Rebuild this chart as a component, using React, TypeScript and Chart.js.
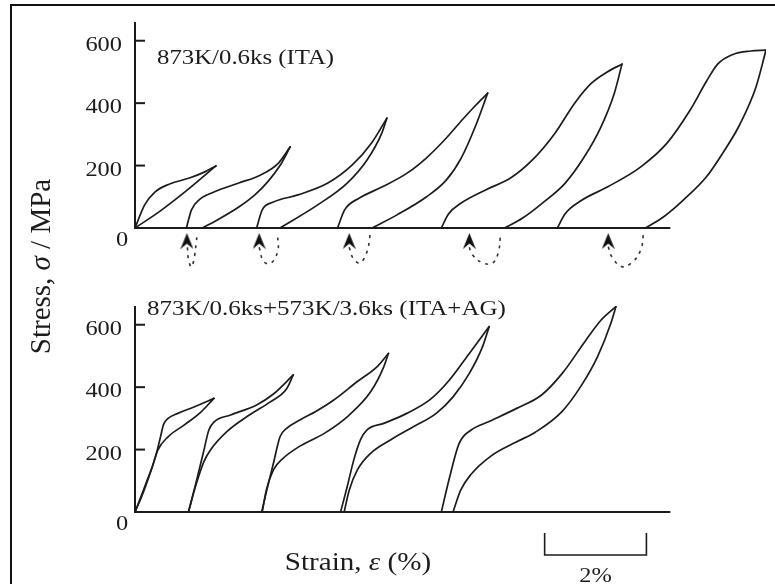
import React, { useEffect, useRef } from "react";
import { Chart, registerables } from "chart.js";

Chart.register(...registerables);

type Pt = [number, number];

// ---------- Top panel: 873K/0.6ks (ITA) — strain (%), stress (MPa) ----------
const ITA_LOADING: Pt[][] = [
  [[0, 0], [0.19, 74], [0.39, 115], [0.68, 141], [1.07, 160], [1.36, 179], [1.59, 199]],
  [[1.01, 0], [1.11, 58], [1.26, 90], [1.55, 115], [2.04, 144], [2.47, 170], [2.82, 208], [3.05, 260]],
  [[2.39, 0], [2.5, 58], [2.72, 83], [3.2, 106], [3.79, 144], [4.27, 202], [4.66, 275], [4.95, 352]],
  [[3.98, 0], [4.12, 58], [4.41, 96], [4.85, 131], [5.34, 175], [5.73, 225], [6.1, 285], [6.45, 350], [6.7, 394], [6.93, 432]],
  [[6.02, 0], [6.16, 45], [6.41, 80], [6.89, 122], [7.38, 160], [7.81, 218], [8.25, 303], [8.64, 400], [8.97, 464], [9.28, 500], [9.57, 525]],
  [[8.3, 0], [8.45, 45], [8.77, 88], [9.29, 132], [9.94, 196], [10.45, 271], [10.91, 378], [11.23, 470], [11.45, 525], [11.75, 556], [12.1, 567], [12.4, 570]],
];

const ITA_UNLOADING: Pt[][] = [
  [[0, 0], [0.5, 55], [1.0, 118], [1.59, 199]],
  [[1.32, 0], [1.6, 24], [2.04, 67], [2.35, 105], [2.62, 150], [2.85, 200], [3.05, 260]],
  [[2.85, 0], [3.59, 74], [4.17, 144], [4.56, 218], [4.85, 304], [4.95, 352]],
  [[4.66, 0], [5.15, 42], [5.73, 100], [6.12, 154], [6.41, 224], [6.7, 330], [6.93, 432]],
  [[7.26, 0], [7.61, 31], [8.0, 79], [8.45, 143], [8.83, 228], [9.16, 325], [9.42, 432], [9.57, 525]],
  [[10.03, 0], [10.39, 36], [10.78, 90], [11.23, 164], [11.55, 240], [11.88, 330], [12.2, 450], [12.4, 570]],
];

// dashed shape-recovery paths below the axis (from arrow to residual strain)
const ITA_RECOVERY: Pt[][] = [
  [[1.03, -62], [1.05, -100], [1.11, -125], [1.17, -90], [1.2, -50], [1.22, -25]],
  [[2.44, -62], [2.53, -108], [2.68, -112], [2.81, -70], [2.8, -22]],
  [[4.21, -62], [4.29, -98], [4.42, -112], [4.56, -76], [4.62, -22]],
  [[6.57, -62], [6.62, -84], [6.83, -112], [7.03, -112], [7.14, -78], [7.18, -28]],
  [[9.3, -60], [9.38, -95], [9.57, -124], [9.77, -110], [9.94, -70], [9.99, -22]],
];

const ITA_ARROW_STRAIN = [1.02, 2.44, 4.21, 6.57, 9.3];
const ITA_ARROW_STRESS = -42;

// ---------- Bottom panel: 873K/0.6ks+573K/3.6ks (ITA+AG) ----------
const AG_LOADING: Pt[][] = [
  [[0, 0], [0.2, 85], [0.4, 175], [0.5, 240], [0.56, 280], [0.65, 300], [0.84, 316], [1.17, 337], [1.55, 364]],
  [[1.05, 0], [1.2, 95], [1.35, 195], [1.45, 262], [1.55, 288], [1.88, 311], [2.39, 343], [2.72, 378], [3.11, 439]],
  [[2.49, 0], [2.59, 70], [2.72, 156], [2.85, 241], [2.98, 268], [3.24, 295], [3.56, 323], [3.9, 358], [4.37, 418], [4.76, 466], [4.98, 508]],
  [[4.04, 0], [4.17, 81], [4.3, 167], [4.43, 231], [4.56, 263], [4.89, 284], [5.34, 316], [5.79, 359], [6.18, 423], [6.57, 508], [6.96, 594]],
  [[6.02, 0], [6.18, 110], [6.37, 220], [6.6, 262], [6.96, 290], [7.5, 332], [7.99, 375], [8.4, 445], [8.85, 548], [9.16, 615], [9.45, 658]],
];

const AG_UNLOADING: Pt[][] = [
  [[0, 0], [0.13, 49], [0.32, 135], [0.45, 199], [0.65, 241], [0.97, 279], [1.3, 321], [1.55, 364]],
  [[1.05, 0], [1.2, 88], [1.35, 160], [1.49, 200], [1.81, 258], [2.27, 313], [2.65, 352], [2.98, 395], [3.11, 439]],
  [[2.5, 0], [2.58, 70], [2.72, 135], [2.91, 172], [3.2, 207], [3.72, 252], [4.17, 305], [4.63, 385], [4.88, 462], [4.98, 508]],
  [[4.11, 0], [4.21, 70], [4.37, 135], [4.63, 188], [5.02, 231], [5.47, 273], [5.92, 316], [6.25, 369], [6.57, 444], [6.83, 530], [6.96, 594]],
  [[6.25, 0], [6.4, 70], [6.6, 120], [7.0, 180], [7.5, 225], [7.86, 255], [8.38, 320], [8.77, 405], [9.09, 498], [9.35, 604], [9.45, 658]],
];

// ---------- axes / labels ----------
const Y_TICKS = [0, 200, 400, 600];
const Y_AXIS_TOP = 660;
const TOP_MIN = -250;
const X_MAX = 12.4;
const X_AXIS_END = 10.52;
const SCALE_BAR_START = 8.05;
const SCALE_BAR_LENGTH = 2;

const TOP_TITLE = "873K/0.6ks (ITA)";
const BOTTOM_TITLE = "873K/0.6ks+573K/3.6ks (ITA+AG)";
const SCALE_BAR_LABEL = "2%";

const INK = "#1c1c1c";
const SERIF = '"Liberation Serif", "Times New Roman", serif';

type Run = { text: string; italic?: boolean };

function drawRuns(
  ctx: CanvasRenderingContext2D,
  runs: Run[],
  x: number,
  y: number,
  size: number,
  sx: number,
  sy: number,
  align: "left" | "center" | "right",
  rotate = false
) {
  ctx.save();
  ctx.translate(x, y);
  if (rotate) ctx.rotate(-Math.PI / 2);
  ctx.scale(sx, sy);
  ctx.fillStyle = INK;
  ctx.textAlign = "left";
  ctx.textBaseline = "alphabetic";
  const fonts = runs.map((r) => `${r.italic ? "italic " : ""}${size}px ${SERIF}`);
  const widths = runs.map((r, i) => {
    ctx.font = fonts[i];
    return ctx.measureText(r.text).width;
  });
  const total = widths.reduce((a, b) => a + b, 0);
  let cx = align === "center" ? -total / 2 : align === "right" ? -total : 0;
  runs.forEach((r, i) => {
    ctx.font = fonts[i];
    ctx.fillText(r.text, cx, 0);
    cx += widths[i];
  });
  ctx.restore();
}

const decorPlugin = {
  id: "decor",
  afterDatasetsDraw(chart: any) {
    const ctx: CanvasRenderingContext2D = chart.ctx;
    const xs = chart.scales.x;
    const panels = [chart.scales.yt, chart.scales.yb];
    const x0 = xs.getPixelForValue(0);
    const xEnd = xs.getPixelForValue(X_AXIS_END);
    ctx.save();
    ctx.strokeStyle = INK;
    ctx.lineWidth = 2;
    for (const ys of panels) {
      const yz = ys.getPixelForValue(0);
      const yTop = ys.getPixelForValue(Y_AXIS_TOP);
      ctx.beginPath();
      ctx.moveTo(x0, yTop);
      ctx.lineTo(x0, yz);
      ctx.lineTo(xEnd, yz);
      ctx.stroke();
      for (const t of Y_TICKS) {
        const py = ys.getPixelForValue(t);
        if (t > 0) {
          ctx.beginPath();
          ctx.moveTo(x0, py);
          ctx.lineTo(x0 + 10, py);
          ctx.stroke();
          drawRuns(ctx, [{ text: String(t) }], x0 - 13, py + 10, 20, 1.22, 1, "right");
        } else {
          drawRuns(ctx, [{ text: String(t) }], x0 - 13, py + 18, 20, 1.22, 1, "center");
        }
      }
    }
    const yt = chart.scales.yt;
    const yb = chart.scales.yb;
    drawRuns(ctx, [{ text: TOP_TITLE }], x0 + 22, yt.getPixelForValue(600) + 23.5, 20, 1.24, 1, "left");
    drawRuns(ctx, [{ text: BOTTOM_TITLE }], x0 + 12, yb.getPixelForValue(Y_AXIS_TOP) + 8.5, 20, 1.25, 1, "left");

    drawRuns(
      ctx,
      [{ text: "Strain, " }, { text: "ε", italic: true }, { text: " (%)" }],
      358,
      yb.getPixelForValue(0) + 58,
      26,
      1.12,
      1,
      "center"
    );
    drawRuns(
      ctx,
      [{ text: "Stress, " }, { text: "σ", italic: true }, { text: " / MPa" }],
      50,
      266.5,
      29,
      1,
      1.05,
      "center",
      true
    );

    const sb0 = xs.getPixelForValue(SCALE_BAR_START);
    const sb1 = xs.getPixelForValue(SCALE_BAR_START + SCALE_BAR_LENGTH);
    const sbY = yb.getPixelForValue(0) + 43;
    ctx.lineWidth = 1.6;
    ctx.beginPath();
    ctx.moveTo(sb0, sbY - 22);
    ctx.lineTo(sb0, sbY);
    ctx.lineTo(sb1, sbY);
    ctx.lineTo(sb1, sbY - 22);
    ctx.stroke();
    drawRuns(ctx, [{ text: SCALE_BAR_LABEL }], (sb0 + sb1) / 2, sbY + 27, 20, 1.22, 1, "center");
    ctx.restore();
  },
};

function makeArrow(): HTMLCanvasElement {
  const c = document.createElement("canvas");
  c.width = 13;
  c.height = 16;
  const g = c.getContext("2d")!;
  g.fillStyle = "#111";
  g.beginPath();
  g.moveTo(6.5, 0);
  g.lineTo(13, 16);
  g.lineTo(6.5, 10.5);
  g.lineTo(0, 16);
  g.closePath();
  g.fill();
  return c;
}

const toXY = (pts: Pt[]) => pts.map(([x, y]) => ({ x, y }));

export default function App() {
  const ref = useRef<HTMLCanvasElement | null>(null);

  useEffect(() => {
    if (!ref.current) return;
    const solid = (pts: Pt[], yAxisID: string) => ({
      type: "line" as const,
      data: toXY(pts),
      yAxisID,
      borderColor: INK,
      borderWidth: 1.7,
      pointRadius: 0,
      pointHoverRadius: 0,
      fill: false,
      cubicInterpolationMode: "monotone" as const,
      borderCapStyle: "round" as const,
    });
    const dashed = (pts: Pt[]) => ({
      type: "line" as const,
      data: toXY(pts),
      yAxisID: "yt",
      borderColor: "#333",
      borderWidth: 1.6,
      borderDash: [3, 5],
      pointRadius: 0,
      pointHoverRadius: 0,
      fill: false,
      tension: 0.4,
    });
    const datasets: any[] = [
      ...ITA_LOADING.map((p) => solid(p, "yt")),
      ...ITA_UNLOADING.map((p) => solid(p, "yt")),
      ...ITA_RECOVERY.map((p) => dashed(p)),
      ...AG_LOADING.map((p) => solid(p, "yb")),
      ...AG_UNLOADING.map((p) => solid(p, "yb")),
      {
        type: "scatter",
        data: ITA_ARROW_STRAIN.map((x) => ({ x, y: ITA_ARROW_STRESS })),
        yAxisID: "yt",
        pointStyle: makeArrow(),
        pointRadius: 8,
        showLine: false,
      },
    ];

    const chart = new Chart(ref.current, {
      type: "line",
      data: { datasets },
      options: {
        responsive: false,
        devicePixelRatio: 1,
        animation: false,
        events: [],
        layout: { padding: { left: 135, right: 0, top: 22, bottom: 72 } },
        plugins: { legend: { display: false }, tooltip: { enabled: false } },
        scales: {
          x: { type: "linear", min: 0, max: X_MAX, display: false },
          yb: {
            type: "linear",
            position: "left",
            stack: "panels",
            stackWeight: Y_AXIS_TOP,
            weight: 1,
            min: 0,
            max: Y_AXIS_TOP,
            display: false,
          },
          yt: {
            type: "linear",
            position: "left",
            stack: "panels",
            stackWeight: Y_AXIS_TOP - TOP_MIN,
            weight: 2,
            min: TOP_MIN,
            max: Y_AXIS_TOP,
            display: false,
          },
        },
      } as any,
      plugins: [decorPlugin],
    });
    return () => chart.destroy();
  }, []);

  return (
    <div
      style={{
        position: "fixed",
        left: 0,
        top: 0,
        width: 775,
        height: 584,
        overflow: "hidden",
        background: "#fff",
      }}
    >
      <div
        style={{
          position: "absolute",
          left: 10,
          top: 4,
          width: 800,
          height: 620,
          borderLeft: "2px solid #111",
          borderTop: "2px solid #111",
        }}
      />
      <canvas
        ref={ref}
        width={775}
        height={584}
        style={{ position: "absolute", left: 0, top: 0, width: 775, height: 584 }}
      />
    </div>
  );
}
